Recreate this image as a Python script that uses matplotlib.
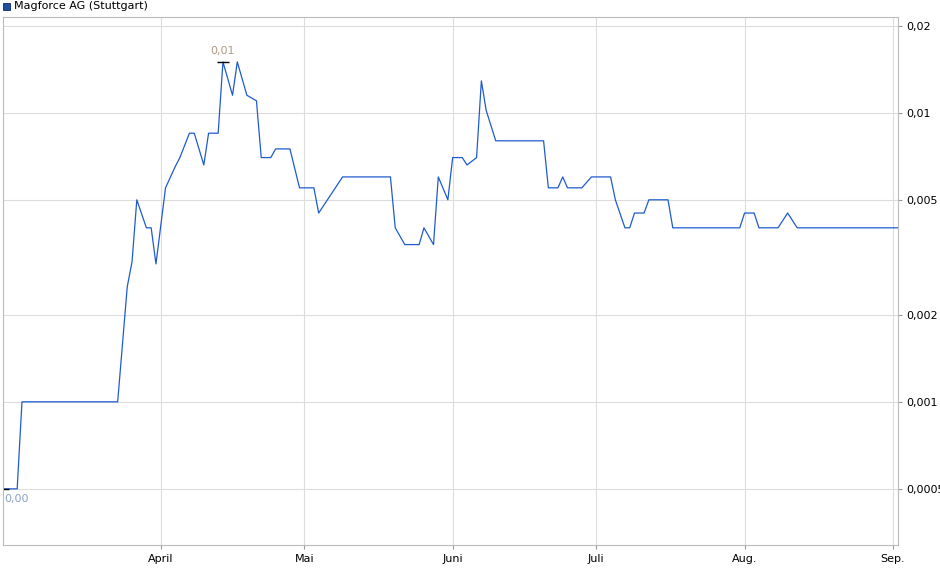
import matplotlib.pyplot as plt
import matplotlib.dates as mdates
import matplotlib.ticker as mticker
import pandas as pd

dates = ["2024-02-28", "2024-03-02", "2024-03-03", "2024-03-23", "2024-03-25", "2024-03-26",
         "2024-03-27", "2024-03-29", "2024-03-30", "2024-03-31", "2024-04-02", "2024-04-04",
         "2024-04-05", "2024-04-07", "2024-04-08", "2024-04-10", "2024-04-11", "2024-04-13",
         "2024-04-14", "2024-04-16", "2024-04-17", "2024-04-19", "2024-04-21", "2024-04-22",
         "2024-04-24", "2024-04-25", "2024-04-28", "2024-04-30", "2024-05-03", "2024-05-04",
         "2024-05-09", "2024-05-19", "2024-05-20", "2024-05-22", "2024-05-25", "2024-05-26",
         "2024-05-28", "2024-05-29", "2024-05-31", "2024-06-01", "2024-06-03", "2024-06-04",
         "2024-06-06", "2024-06-07", "2024-06-08", "2024-06-10", "2024-06-20", "2024-06-21",
         "2024-06-23", "2024-06-24", "2024-06-25", "2024-06-28", "2024-06-30", "2024-07-04",
         "2024-07-05", "2024-07-07", "2024-07-08", "2024-07-09", "2024-07-11", "2024-07-12",
         "2024-07-16", "2024-07-17", "2024-07-31", "2024-08-01", "2024-08-03", "2024-08-04",
         "2024-08-08", "2024-08-10", "2024-08-12", "2024-09-02"]
prices = [0.0005, 0.0005, 0.001, 0.001, 0.0025, 0.00305,
          0.005, 0.004, 0.004, 0.003, 0.0055, 0.0065,
          0.007, 0.0085, 0.0085, 0.0066, 0.0085, 0.0085,
          0.015, 0.0115, 0.015, 0.0115, 0.011, 0.007,
          0.007, 0.0075, 0.0075, 0.0055, 0.0055, 0.0045,
          0.006, 0.006, 0.004, 0.0035, 0.0035, 0.004,
          0.0035, 0.006, 0.005, 0.007, 0.007, 0.0066,
          0.007, 0.0129, 0.0102, 0.008, 0.008, 0.0055,
          0.0055, 0.006, 0.0055, 0.0055, 0.006, 0.006,
          0.005, 0.004, 0.004, 0.0045, 0.0045, 0.005,
          0.005, 0.004, 0.004, 0.0045, 0.0045, 0.004,
          0.004, 0.0045, 0.004, 0.004]
yticks = [0.0005, 0.001, 0.002, 0.005, 0.01, 0.02]
ylabels = ["0,0005", "0,001", "0,002", "0,005", "0,01", "0,02"]

d = pd.to_datetime(dates)
fig = plt.figure(figsize=(9.4, 5.79), dpi=100)
ax = fig.add_axes([0.003, 0.059, 0.952, 0.912])
ax.plot(d, prices, color="#1f5bd0", lw=0.9)
ax.set_yscale("log")
ax.set_ylim(0.0005 / 2 ** (56 / 87), 0.02 * 2 ** (9 / 87))
ax.set_xlim(d[0], d[-1])
ax.yaxis.set_major_locator(mticker.FixedLocator(yticks))
ax.yaxis.set_major_formatter(mticker.FixedFormatter(ylabels))
ax.yaxis.set_minor_locator(mticker.NullLocator())
ax.yaxis.tick_right()
ax.xaxis.set_major_locator(mdates.MonthLocator(bymonth=[4, 5, 6, 7, 8, 9]))
months = {4: "April", 5: "Mai", 6: "Juni", 7: "Juli", 8: "Aug.", 9: "Sep."}
ax.xaxis.set_major_formatter(mticker.FuncFormatter(lambda v, p: months.get(mdates.num2date(v).month, "")))
ax.tick_params(labelsize=8, length=3, color="#999999")
ax.grid(color="#dddddd", lw=0.8)
for s in ax.spines.values():
    s.set_color("#bbbbbb")

# max / min markers
imax = prices.index(max(prices))
ax.plot(d[imax], prices[imax], marker="_", color="black", ms=8)
ax.annotate("0,01", (d[imax], prices[imax]), xytext=(0, 4), textcoords="offset points",
            ha="center", va="bottom", fontsize=8, color="#b09a80")
ax.plot(d[0], prices[0], marker="_", color="black", ms=8)
ax.annotate("0,00", (d[0], prices[0]), xytext=(10, -4), textcoords="offset points",
            ha="center", va="top", fontsize=8, color="#8aa0c0")

fig.patches.append(plt.Rectangle((0.003, 0.982), 0.008, 0.013, transform=fig.transFigure,
                                 facecolor="#1f4fa0", edgecolor="#102a60", lw=0.6))
fig.text(0.015, 0.989, "Magforce AG (Stuttgart)", fontsize=8, va="center")
fig.savefig("out.png")
